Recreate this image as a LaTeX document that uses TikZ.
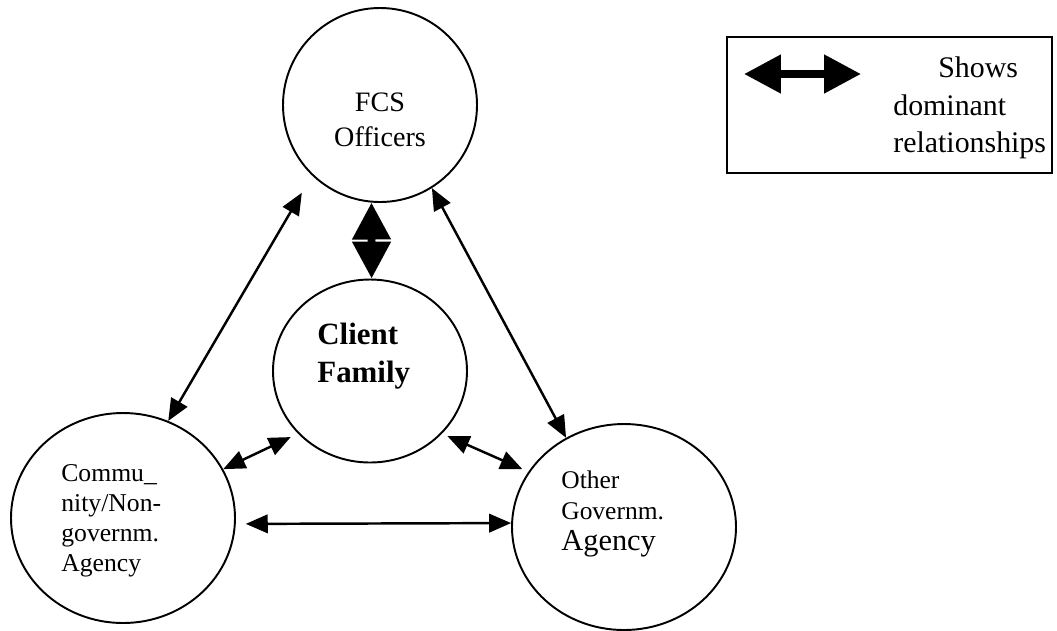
\documentclass[tikz,border=0pt]{standalone}
\usepackage{fontspec}
\setmainfont{Liberation Serif}
\usetikzlibrary{shapes.geometric,arrows.meta}

\begin{document}
\begin{tikzpicture}
\tikzstyle{ell}=[draw, ellipse, line width=1.1pt, inner sep=0pt]
\tikzstyle{txt}=[inner sep=0pt, align=left]
\tikzstyle{rel}=[{Triangle[length=12.5pt,width=10.5pt]}-{Triangle[length=12.5pt,width=10.5pt]}, line width=1.4pt]
\tikzstyle{domrel}=[{Triangle[length=21pt,width=21pt]}-{Triangle[length=21pt,width=21pt]}, line width=4.5pt]
\useasboundingbox (0,0) rectangle (21.14,-12.6);
% the four groups
\node[ell, minimum width=3.88cm, minimum height=3.88cm] (fcs) at (7.6,-2.1) {};
\node[ell, minimum width=3.88cm, minimum height=3.66cm] (client) at (7.4,-7.42) {};
\node[ell, minimum width=4.48cm, minimum height=4.2cm] (comm) at (2.46,-10.36) {};
\node[ell, minimum width=4.48cm, minimum height=4.12cm] (other) at (12.48,-10.54) {};
\node[txt, align=center, font=\fontsize{16}{19.8}\selectfont] (fcstxt) at (7.6,-2.39) {FCS\\Officers};
\node[txt, anchor=west, font=\fontsize{17.6}{21.5}\selectfont\bfseries] (clienttxt) at (6.34,-7.12) {Client\\Family};
\node[txt, anchor=west, font=\fontsize{14.6}{17}\selectfont] (commtxt) at (1.22,-10.42) {Commu\_\\nity/Non-\\governm.\\Agency};
\node[txt, anchor=west, font=\fontsize{14.5}{17.6}\selectfont] (othertxt) at (11.22,-10.27) {Other\\Governm.\\\fontsize{17.3}{19.3}\selectfont Agency};
% relationships
\draw[domrel] (fcs.265) -- (client.89);
\foreach \i/\j/\s/\t in {fcs.226/comm.65/0.4/0, fcs.-58/other.123/0/0, client.221/comm.26/0.16/0, client.-41/other.150/0.115/0.13, comm.-3/other.178/0.2/0}{
\draw[rel, shorten <=\s cm, shorten >=\t cm] (\i) -- (\j);}
% legend
\node[draw, line width=1.1pt, minimum width=6.5cm, minimum height=2.72cm, inner sep=0pt] (legend) at (17.79,-2.1) {};
\coordinate (lgL) at (14.88,-1.48);
\coordinate (lgR) at (17.22,-1.48);
\draw[domrel] (lgL) -- (lgR);
\node[txt, anchor=west, font=\fontsize{17}{21.3}\selectfont] (legendtxt) at (17.86,-2.16) {\hspace*{0.9cm}Shows\\dominant\\relationships};
\end{tikzpicture}
\end{document}
